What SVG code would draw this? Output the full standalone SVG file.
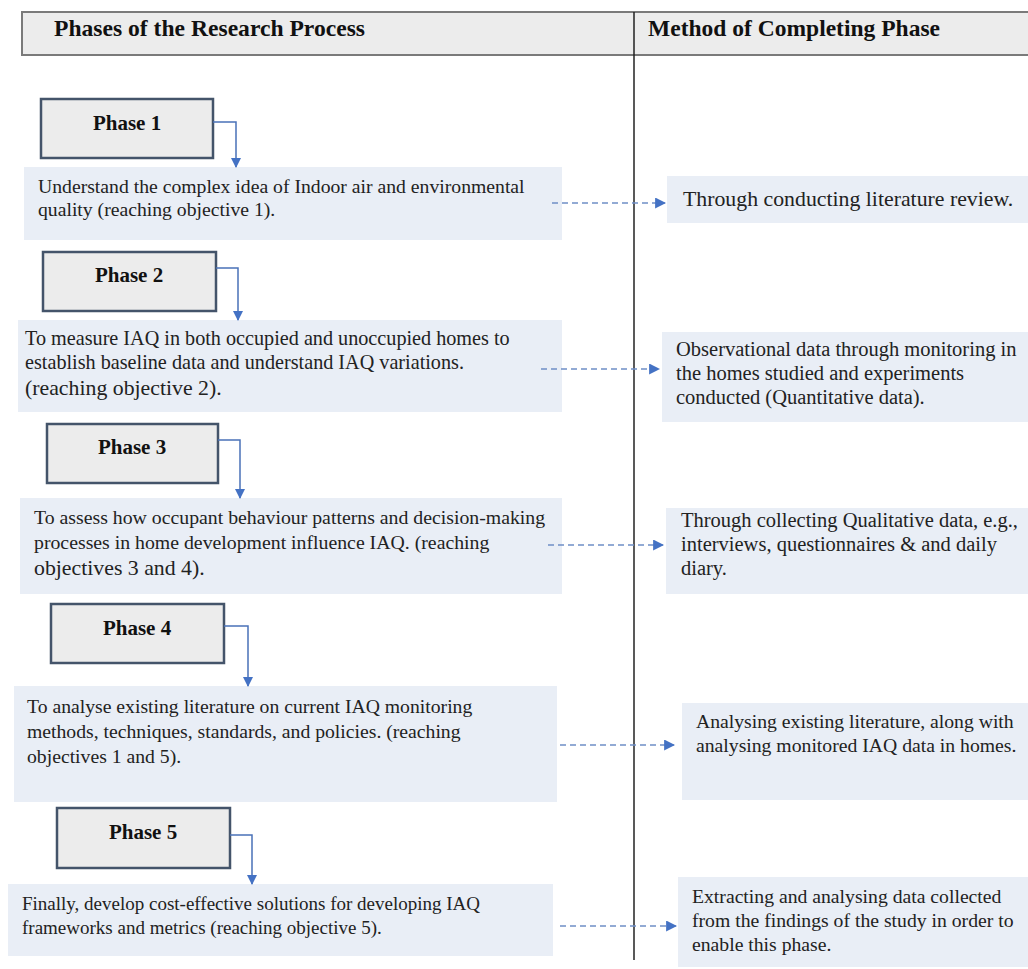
<svg xmlns="http://www.w3.org/2000/svg" width="1028" height="969" viewBox="0 0 1028 969">
  <defs>
    <style>
      .hdr { fill: #ececec; stroke: #7a7a7a; stroke-width: 2; }
      .hdr-t { font-family: "Liberation Serif", "Times New Roman", serif; font-weight: bold; font-size: 23px; fill: #111; }
      .phase { fill: #ececec; stroke: #44546a; stroke-width: 2.5; }
      .phase-t { font-family: "Liberation Serif", "Times New Roman", serif; font-weight: bold; font-size: 21px; fill: #111; text-anchor: middle; }
      .goal { fill: #e9eef6; }
      .body { font-family: "Liberation Serif", "Times New Roman", serif; font-size: 19.7px; fill: #222; }
      .s19 { font-size: 19px; }
      .s198 { font-size: 19.8px; }
      .s20 { font-size: 20.2px; }
      .s205 { font-size: 20.5px; }
      .s22 { font-size: 21.8px; }
      .flow { fill: none; stroke: #4a72b8; stroke-width: 1.5; }
      .dash { fill: none; stroke: #6f8fc6; stroke-width: 1.5; stroke-dasharray: 6 4; }
      .divider { stroke: #222; stroke-width: 1.5; }
    </style>
    <marker id="tri" viewBox="0 0 10 10" refX="9" refY="5" markerWidth="10" markerHeight="10" markerUnits="userSpaceOnUse" orient="auto">
      <path d="M0,0 L10,5 L0,10 z" fill="#4472c4"/>
    </marker>
    <marker id="triL" viewBox="0 0 10 10" refX="9" refY="5" markerWidth="11" markerHeight="11" markerUnits="userSpaceOnUse" orient="auto">
      <path d="M0,0 L10,5 L0,10 z" fill="#4472c4"/>
    </marker>
  </defs>

  <rect width="1028" height="969" fill="#ffffff"/>

  <!-- table header -->
  <g id="header">
    <rect class="hdr" x="22" y="12" width="1010" height="43"/>
    <text class="hdr-t" x="54" y="36" textLength="311" lengthAdjust="spacingAndGlyphs">Phases of the Research Process</text>
    <text class="hdr-t" x="648" y="36" textLength="292" lengthAdjust="spacingAndGlyphs">Method of Completing Phase</text>
  </g>
  <line class="divider" x1="634" y1="12" x2="634" y2="960"/>

  <!-- phase 1 -->
  <g id="phase1">
    <rect class="phase" x="41" y="99" width="172" height="59"/>
    <text class="phase-t" x="127" y="130">Phase 1</text>
  </g>
  <g id="goal1">
    <rect class="goal" x="24" y="167" width="538" height="73"/>
    <text class="body" x="38" y="193">Understand the complex idea of Indoor air and environmental</text>
    <text class="body" x="38" y="216">quality (reaching objective 1).</text>
  </g>
  <g id="method1">
    <rect class="goal" x="667" y="176" width="361" height="47"/>
    <text class="body s22" x="683" y="206">Through conducting literature review.</text>
  </g>

  <!-- phase 2 -->
  <g id="phase2">
    <rect class="phase" x="43" y="252" width="173" height="59"/>
    <text class="phase-t" x="129" y="282">Phase 2</text>
  </g>
  <g id="goal2">
    <rect class="goal" x="18" y="320" width="544" height="92"/>
    <text class="body s20" x="25" y="345">To measure IAQ in both occupied and unoccupied homes to</text>
    <text class="body s20" x="25" y="369">establish baseline data and understand IAQ variations.</text>
    <text class="body s22" x="25" y="395">(reaching objective 2).</text>
  </g>
  <g id="method2">
    <rect class="goal" x="662" y="332" width="366" height="90"/>
    <text class="body s205" x="676" y="356">Observational data through monitoring in</text>
    <text class="body s205" x="676" y="380">the homes studied and experiments</text>
    <text class="body s205" x="676" y="404">conducted (Quantitative data).</text>
  </g>

  <!-- phase 3 -->
  <g id="phase3">
    <rect class="phase" x="47" y="424" width="171" height="59"/>
    <text class="phase-t" x="132" y="454">Phase 3</text>
  </g>
  <g id="goal3">
    <rect class="goal" x="20" y="498" width="542" height="96"/>
    <text class="body s198" x="34" y="524">To assess how occupant behaviour patterns and decision-making</text>
    <text class="body s198" x="34" y="549">processes in home development influence IAQ. (reaching</text>
    <text class="body s22" x="34" y="575">objectives 3 and 4).</text>
  </g>
  <g id="method3">
    <rect class="goal" x="666" y="508" width="362" height="86"/>
    <text class="body s205" x="681" y="527">Through collecting Qualitative data, e.g.,</text>
    <text class="body s205" x="681" y="551">interviews, questionnaires &amp; and daily</text>
    <text class="body s205" x="681" y="575">diary.</text>
  </g>

  <!-- phase 4 -->
  <g id="phase4">
    <rect class="phase" x="51" y="604" width="173" height="59"/>
    <text class="phase-t" x="137" y="635">Phase 4</text>
  </g>
  <g id="goal4">
    <rect class="goal" x="14" y="686" width="543" height="116"/>
    <text class="body" x="27" y="713">To analyse existing literature on current IAQ monitoring</text>
    <text class="body" x="27" y="738">methods, techniques, standards, and policies. (reaching</text>
    <text class="body" x="27" y="763">objectives 1 and 5).</text>
  </g>
  <g id="method4">
    <rect class="goal" x="682" y="703" width="346" height="97"/>
    <text class="body" x="696" y="728">Analysing existing literature, along with</text>
    <text class="body" x="696" y="752">analysing monitored IAQ data in homes.</text>
  </g>

  <!-- phase 5 -->
  <g id="phase5">
    <rect class="phase" x="57" y="808" width="173" height="60"/>
    <text class="phase-t" x="143" y="839">Phase 5</text>
  </g>
  <g id="goal5">
    <rect class="goal" x="8" y="884" width="545" height="72"/>
    <text class="body s19" x="22" y="910">Finally, develop cost-effective solutions for developing IAQ</text>
    <text class="body s19" x="22" y="934">frameworks and metrics (reaching objective 5).</text>
  </g>
  <g id="method5">
    <rect class="goal" x="678" y="877" width="350" height="90"/>
    <text class="body" x="692" y="903">Extracting and analysing data collected</text>
    <text class="body" x="692" y="927">from the findings of the study in order to</text>
    <text class="body" x="692" y="951">enable this phase.</text>
  </g>

  <!-- connectors -->
  <g id="connectors">
    <path class="flow" d="M213,122 H236 V167" marker-end="url(#tri)"/>
    <path class="flow" d="M216,268 H238 V320" marker-end="url(#tri)"/>
    <path class="flow" d="M218,440 H240 V498" marker-end="url(#tri)"/>
    <path class="flow" d="M224,626 H248 V686" marker-end="url(#tri)"/>
    <path class="flow" d="M230,835 H252 V884" marker-end="url(#tri)"/>

    <path class="dash" d="M552,203 H665" marker-end="url(#triL)"/>
    <path class="dash" d="M541,369 H659" marker-end="url(#triL)"/>
    <path class="dash" d="M548,545 H663" marker-end="url(#triL)"/>
    <path class="dash" d="M560,745 H674" marker-end="url(#triL)"/>
    <path class="dash" d="M560,926 H676" marker-end="url(#triL)"/>
  </g>
</svg>
